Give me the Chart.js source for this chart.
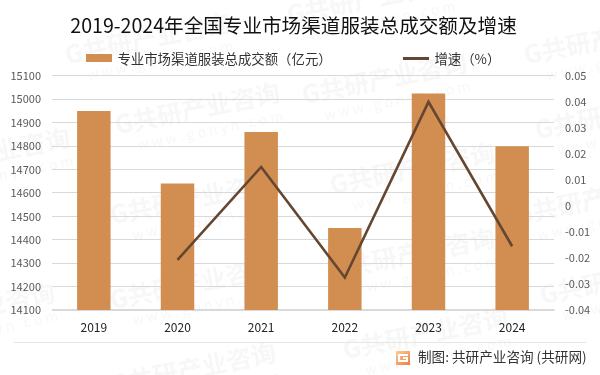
<!DOCTYPE html>
<html><head><meta charset="utf-8">
<style>html,body{margin:0;padding:0;background:#fff}#w{width:600px;height:375px;position:relative}</style>
<script src="https://cdn.jsdelivr.net/npm/chart.js@4/dist/chart.umd.js"></script></head>
<body><div id="w"><canvas id="c" width="600" height="375"></canvas></div>
<script>
const categories = ['2019','2020','2021','2022','2023','2024'];
const amountValues = [14950,14640,14860,14450,15025,14800];
const growthValues = [null,-0.0207,0.015,-0.0275,0.04,-0.0155];
const chartTitle = '2019-2024年全国专业市场渠道服装总成交额及增速';
const amountLabel = '专业市场渠道服装总成交额（亿元）';
const growthLabel = '增速（%）';
const footerText = '制图: 共研产业咨询 (共研网)';
const FONT = '"Noto Sans CJK SC","Noto Sans",sans-serif';
const watermarks = [[65,55],[287,15],[524,55],[302,95],[115,125],[-95,170],[110,215],[330,185],[515,215],[110,300],[330,270],[535,130],[-110,325],[343,350],[111,385],[540,295]];

function swatch(w,h,color){const s=document.createElement('canvas');s.width=w;s.height=h;const x=s.getContext('2d');x.fillStyle=color;x.fillRect(0,0,w,h);return s;}
const decor = {
  id:'decor',
  beforeDraw(ch){
    const c=ch.ctx;c.save();
    watermarks.forEach(([x,y])=>{
      c.save();c.translate(x,y);c.rotate(-0.2);
      c.fillStyle='rgba(190,190,190,0.13)';
      c.font='bold 25px '+FONT;c.fillText('G共研产业咨询',0,0);
      c.font='14px '+FONT;c.fillText('w w w . g o n y n . c o m',18,24);
      c.restore();
    });
    c.restore();
  },
  afterDraw(ch){
    const c=ch.ctx;c.save();
    c.strokeStyle='#e6e6e6';c.lineWidth=1;c.beginPath();c.moveTo(14,342.5);c.lineTo(586,342.5);c.stroke();
    const g=c.createLinearGradient(396,350,410,365);g.addColorStop(0,'#f9cfa0');g.addColorStop(1,'#ef7f3c');
    c.fillStyle=g;c.fillRect(396,351,14,14);
    c.fillStyle='#fff';c.fillRect(398,354,10,2);c.fillRect(398,354,2,8);c.fillRect(398,360,10,2);c.fillRect(403,357,5,2);c.fillRect(406,357,2,5);
    c.fillStyle='#333';c.font='13.6px '+FONT;c.textBaseline='middle';c.textAlign='left';
    c.fillText(footerText,418,357);
    c.restore();
  }
};
new Chart(document.getElementById('c'),{
  data:{labels:categories,datasets:[
    {type:'line',label:growthLabel,data:growthValues,yAxisID:'y1',borderColor:'#654731',borderWidth:2.6,pointRadius:0,tension:0,fill:false,spanGaps:false,order:1},
    {type:'bar',label:amountLabel,data:amountValues,yAxisID:'y',backgroundColor:'#d18e50',barPercentage:0.4,categoryPercentage:1,order:2}
  ]},
  options:{
    responsive:false,animation:false,
    layout:{padding:{top:-19.5,left:-43,right:-30,bottom:0}},
    plugins:{
      tooltip:{enabled:false},
      title:{display:true,text:chartTitle,color:'#111',font:{family:FONT,size:19.6,weight:'normal'},padding:{top:33.75,bottom:-58}},
      legend:{display:true,position:'top',padding:{top:0,bottom:2},
        labels:{usePointStyle:true,pointStyleWidth:24,padding:72,color:'#333',font:{family:FONT,size:13.4},
          sort:(a,b)=>b.datasetIndex-a.datasetIndex,
          generateLabels(ch){return ch.data.datasets.map((d,i)=>({text:d.label,datasetIndex:i,fontColor:'#333',lineWidth:0,strokeStyle:'rgba(0,0,0,0)',
            fillStyle:'rgba(0,0,0,0)',pointStyle:d.type==='bar'?swatch(26,8,'#d18e50'):swatch(26,3,'#654731')}));}
        }}
    },
    scales:{
      x:{grid:{display:false},border:{color:'#d9d9d9'},ticks:{color:'#222',font:{family:FONT,size:12},padding:3,maxRotation:0},afterFit(s){s.height=65;}},
      y:{position:'left',min:14100,max:15100,border:{display:false},grid:{color:'#d9d9d9',drawTicks:false},
        ticks:{stepSize:100,color:'#595959',font:{family:FONT,size:11},padding:11,callback:v=>String(v)},afterFit(s){s.width=95;}},
      y1:{position:'right',min:-0.04,max:0.05,border:{display:false},grid:{display:false,drawTicks:false},
        ticks:{stepSize:0.01,color:'#595959',font:{family:FONT,size:11},padding:11,callback:v=>String(+v.toFixed(2))},afterFit(s){s.width=76;}}
    }
  },
  plugins:[decor]
});
</script></body></html>
